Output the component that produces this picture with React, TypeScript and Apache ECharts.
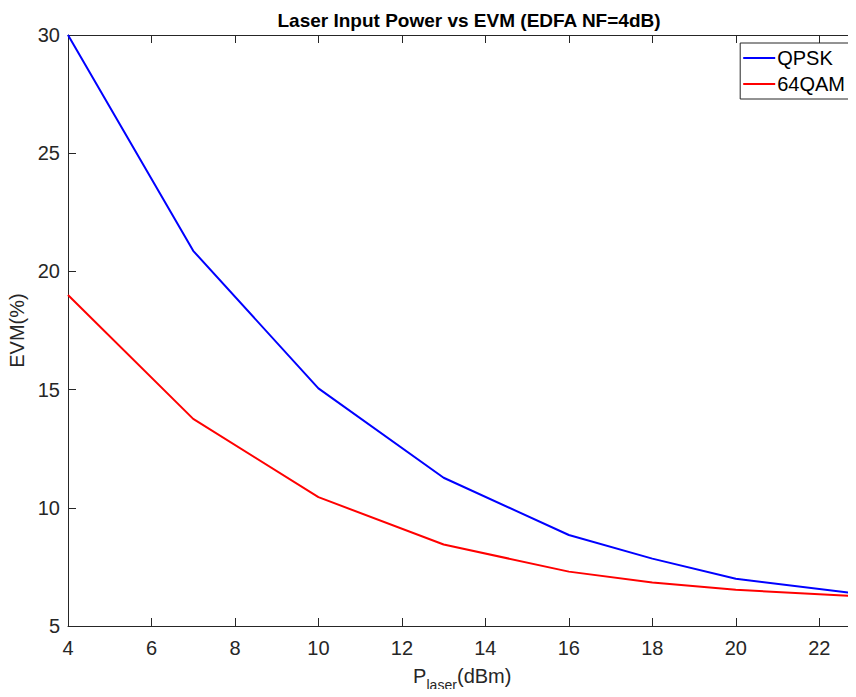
import React, { useEffect, useRef } from "react";
import * as echarts from "echarts";

const xValues = [4, 7, 10, 13, 16, 18, 20, 23];
const qpsk = [30.0, 20.87, 15.05, 11.27, 8.85, 7.85, 7.0, 6.35];
const qam64 = [19.0, 13.76, 10.45, 8.45, 7.3, 6.84, 6.53, 6.25];
const seriesNames = ["QPSK", "64QAM"];
const titleText = "Laser Input Power vs EVM (EDFA NF=4dB)";
const yTitle = "EVM(%)";
const xTitleParts = ["P", "laser", "(dBm)"];

const FONT = "Liberation Sans, Arial, Helvetica, sans-serif";
const AX = "#262626";

export default function App() {
  const ref = useRef<HTMLDivElement>(null);
  useEffect(() => {
    const chart = echarts.init(ref.current!, null, { renderer: "svg" });
    const pair = (ys: number[]) => xValues.map((x, i) => [x, ys[i]]);
    const tickCommon = { show: true, inside: true, length: 8, lineStyle: { color: AX, width: 1 } };
    chart.setOption({
      animation: false,
      backgroundColor: "#ffffff",
      textStyle: { fontFamily: FONT },
      title: {
        text: titleText,
        left: 464,
        textAlign: "center",
        top: 6,
        textStyle: { fontFamily: FONT, fontSize: 19, fontWeight: "bold", color: "#000" },
      },
      grid: { left: 68, right: -5, top: 35, bottom: 71, containLabel: false, outerBoundsMode: "none" },
      legend: {
        orient: "vertical",
        right: 4,
        top: 43,
        data: seriesNames,
        icon: "rect",
        itemWidth: 32,
        itemHeight: 2,
        itemGap: 6,
        padding: [5, 7, 5, 3],
        borderColor: "#262626",
        borderWidth: 1,
        backgroundColor: "#fff",
        textStyle: { fontFamily: FONT, fontSize: 20, color: "#000", padding: [0, 0, 0, -3] },
      },
      xAxis: [
        {
          type: "value",
          min: 4,
          max: 23,
          interval: 2,
          position: "bottom",
          axisLine: { show: true, onZero: false, lineStyle: { color: AX, width: 1 } },
          axisTick: tickCommon,
          splitLine: { show: false },
          axisLabel: { fontFamily: FONT, fontSize: 20, color: AX, margin: 12, showMaxLabel: false },
        },
        {
          type: "value",
          min: 4,
          max: 23,
          interval: 2,
          position: "top",
          axisLine: { show: true, onZero: false, lineStyle: { color: AX, width: 1 } },
          axisTick: tickCommon,
          splitLine: { show: false },
          axisLabel: { show: false },
        },
      ],
      yAxis: [
        {
          type: "value",
          min: 5,
          max: 30,
          interval: 5,
          position: "left",
          name: yTitle,
          nameLocation: "middle",
          nameRotate: 90,
          nameGap: 33,
          nameTextStyle: { fontFamily: FONT, fontSize: 20, color: AX },
          axisLine: { show: true, onZero: false, lineStyle: { color: AX, width: 1 } },
          axisTick: tickCommon,
          splitLine: { show: false },
          axisLabel: { fontFamily: FONT, fontSize: 20, color: AX, margin: 8 },
        },
        {
          type: "value",
          min: 5,
          max: 30,
          interval: 5,
          position: "right",
          axisLine: { show: true, onZero: false, lineStyle: { color: AX, width: 1 } },
          axisTick: tickCommon,
          splitLine: { show: false },
          axisLabel: { show: false },
        },
      ],
      graphic: [
        {
          type: "text",
          x: 413,
          y: 666,
          style: { text: xTitleParts[0], fontFamily: FONT, fontSize: 20, fill: AX, align: "left", verticalAlign: "top" },
        },
        {
          type: "text",
          x: 426.5,
          y: 678,
          style: { text: xTitleParts[1], fontFamily: FONT, fontSize: 14, fill: AX, align: "left", verticalAlign: "top" },
        },
        {
          type: "text",
          x: 457,
          y: 666,
          style: { text: xTitleParts[2], fontFamily: FONT, fontSize: 20, fill: AX, align: "left", verticalAlign: "top" },
        },
      ],
      series: [
        {
          name: seriesNames[0],
          type: "line",
          data: pair(qpsk),
          symbol: "none",
          lineStyle: { color: "#0000ff", width: 2 },
          itemStyle: { color: "#0000ff" },
          clip: true,
        },
        {
          name: seriesNames[1],
          type: "line",
          data: pair(qam64),
          symbol: "none",
          lineStyle: { color: "#ff0000", width: 2 },
          itemStyle: { color: "#ff0000" },
          clip: true,
        },
      ],
    });
    return () => chart.dispose();
  }, []);
  return <div ref={ref} style={{ width: 856, height: 697, margin: -8 }} />;
}
